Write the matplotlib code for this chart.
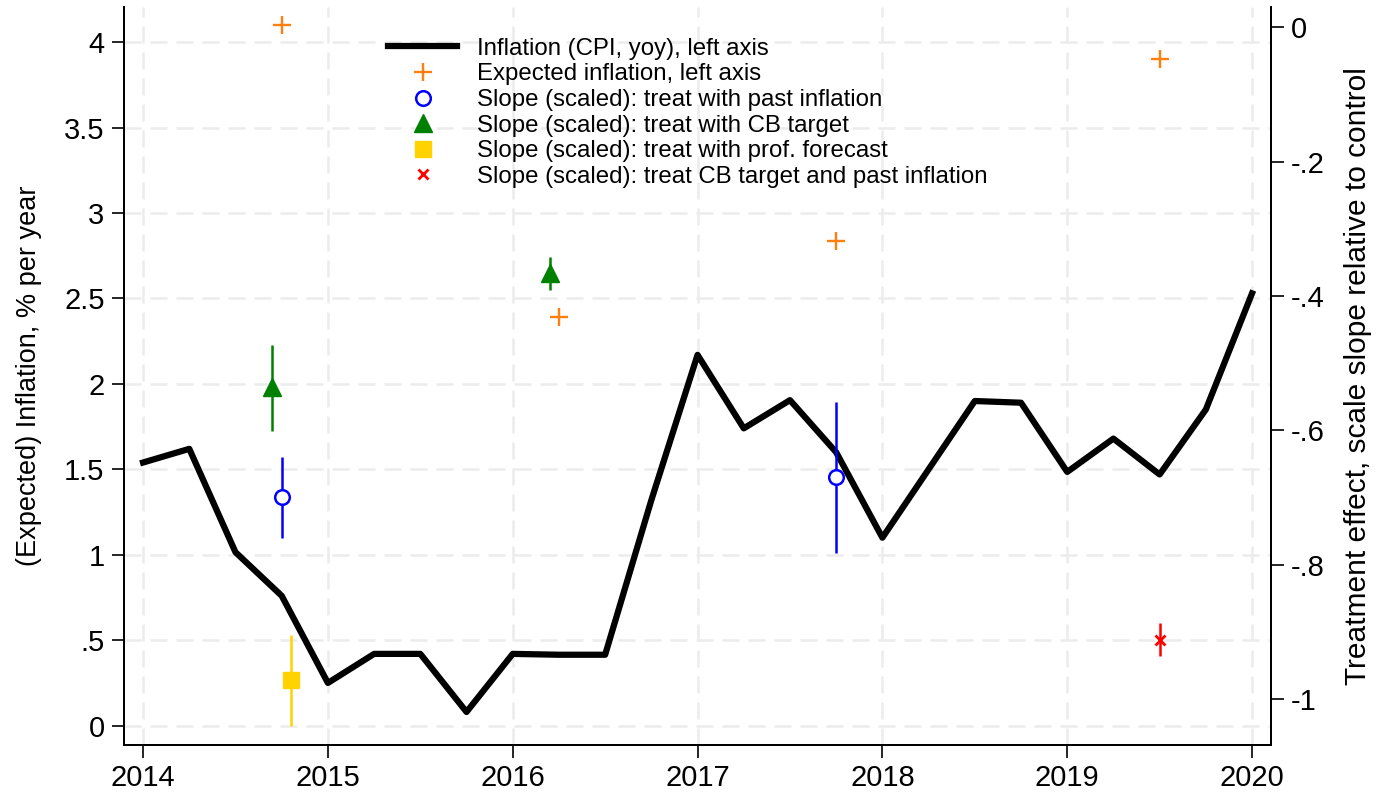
import matplotlib.pyplot as plt
import numpy as np

plt.rcParams['font.family'] = ['Liberation Sans', 'DejaVu Sans']

# quarterly CPI inflation, yoy (left axis)
cpi_t = [2014.0, 2014.25, 2014.5, 2014.75, 2015.0, 2015.25, 2015.5, 2015.75,
         2016.0, 2016.25, 2016.5, 2016.75, 2017.0, 2017.25, 2017.5, 2017.75,
         2018.0, 2018.25, 2018.5, 2018.75, 2019.0, 2019.25, 2019.5, 2019.75, 2020.0]
cpi = [1.54, 1.62, 1.015, 0.76, 0.25, 0.42, 0.42, 0.08,
       0.42, 0.415, 0.415, 1.32, 2.17, 1.74, 1.905, 1.60,
       1.10, 1.50, 1.90, 1.89, 1.485, 1.68, 1.47, 1.85, 2.53]

# expected inflation (left axis)
exp_t = [2014.75, 2016.25, 2017.75, 2019.5]
exp_v = [4.10, 2.39, 2.835, 3.90]

# treatment effects (right axis): estimate, lower, upper
past_t = [2014.75, 2017.75]
past_v = [-0.699, -0.670]
past_lo = [-0.760, -0.783]
past_hi = [-0.640, -0.557]

cb_t = [2014.7, 2016.2]
cb_v = [-0.536, -0.366]
cb_lo = [-0.601, -0.391]
cb_hi = [-0.473, -0.342]

prof_t = [2014.8]
prof_v = [-0.972]
prof_lo = [-1.040]
prof_hi = [-0.905]

both_t = [2019.5]
both_v = [-0.912]
both_lo = [-0.936]
both_hi = [-0.887]

left_ticks = [0, 0.5, 1, 1.5, 2, 2.5, 3, 3.5, 4]
left_labels = ['0', '.5', '1', '1.5', '2', '2.5', '3', '3.5', '4']
right_ticks = [-1, -0.8, -0.6, -0.4, -0.2, 0]
right_labels = ['-1', '-.8', '-.6', '-.4', '-.2', '0']
years = [2014, 2015, 2016, 2017, 2018, 2019, 2020]

fig = plt.figure(figsize=(13.89, 7.97), dpi=100)
ax = fig.add_axes([0.0893, 0.0653, 0.8258, 0.9257])
ax2 = ax.twinx()

ax.set_xlim(2013.897, 2020.103)
ax.set_ylim(-0.113, 4.205)
ax2.set_ylim(-1.068, 0.0298)

ax.set_xticks(years)
ax.set_yticks(left_ticks)
ax.set_yticklabels(left_labels)
ax2.set_yticks(right_ticks)
ax2.set_yticklabels(right_labels)

ax.grid(True, color='#ececec', linestyle=(0, (6.8, 3.6)), linewidth=1.8)
ax.set_axisbelow(True)

for a in (ax, ax2):
    a.spines['top'].set_visible(False)
    a.tick_params(labelsize=21, length=9, width=1.2, direction='out', pad=5)
    for s in a.spines.values():
        s.set_linewidth(1.4)
ax.tick_params(axis='x', length=9, pad=5)

h_cpi, = ax.plot(cpi_t, cpi, color='black', linewidth=4.5, zorder=3,
                 label='Inflation (CPI, yoy), left axis')
h_exp, = ax.plot(exp_t, exp_v, linestyle='none', marker='+', color='#ff7f0e',
                 markersize=13, markeredgewidth=1.7, label='Expected inflation, left axis')


def effect(t, v, lo, hi, color, **kw):
    v = np.array(v)
    err = [v - np.array(lo), np.array(hi) - v]
    ax2.errorbar(t, v, yerr=err, fmt='none', ecolor=color, elinewidth=1.8, capsize=0, zorder=4)
    h, = ax2.plot(t, v, linestyle='none', color=color, zorder=5, **kw)
    return h


h_past = effect(past_t, past_v, past_lo, past_hi, '#0000ff', marker='o', markersize=10.5,
                markerfacecolor='white', markeredgewidth=1.8,
                label='Slope (scaled): treat with past inflation')
h_cb = effect(cb_t, cb_v, cb_lo, cb_hi, '#008000', marker='^', markersize=13,
              label='Slope (scaled): treat with CB target')
h_prof = effect(prof_t, prof_v, prof_lo, prof_hi, '#ffd200', marker='s', markersize=11,
                label='Slope (scaled): treat with prof. forecast')
h_both = effect(both_t, both_v, both_lo, both_hi, '#ff0000', marker='x', markersize=7,
                markeredgewidth=2, label='Slope (scaled): treat CB target and past inflation')

ax.set_ylabel('(Expected) Inflation, % per year', fontsize=19.5, labelpad=16)
ax2.set_ylabel('Treatment effect, scale slope relative to control', fontsize=21.5, labelpad=14)

handles = [h_cpi, h_exp, h_past, h_cb, h_prof, h_both]
ax2.legend(handles=handles, loc='upper left', bbox_to_anchor=(0.2215, 0.9715),
           frameon=False, fontsize=17.3, numpoints=1, handlelength=2.9,
           handletextpad=0.83, labelspacing=0.15, borderaxespad=0)

fig.savefig('out.png', dpi=100)
